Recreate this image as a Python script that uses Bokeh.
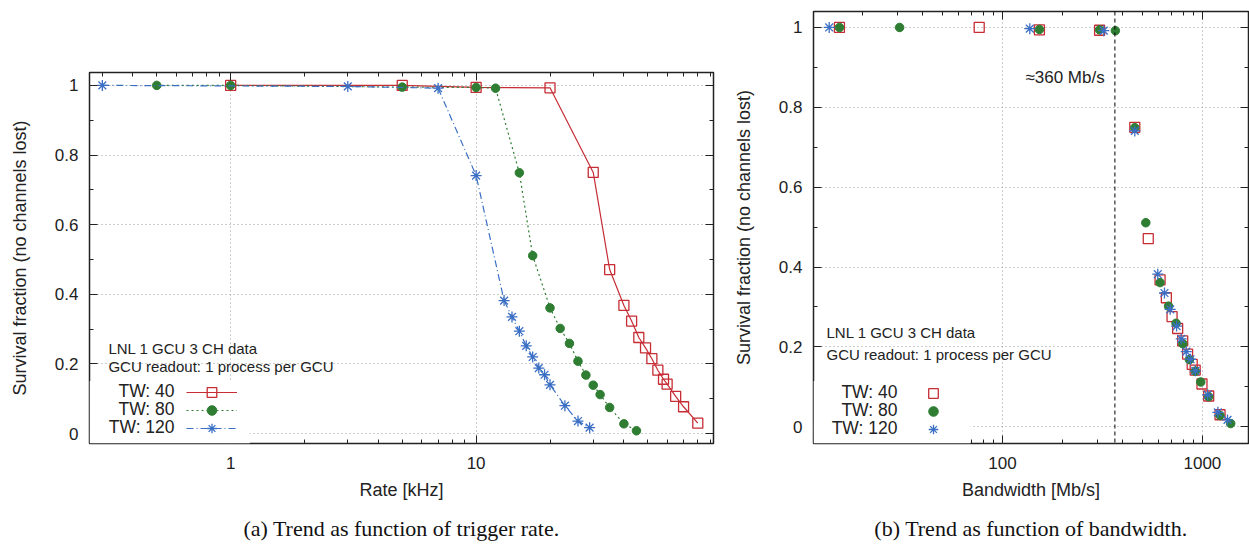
from bokeh.plotting import figure
from bokeh.models import (Range1d, FixedTicker, CustomJSTickFormatter, LinearAxis, LogAxis,
                          Legend, LegendItem, Label, Span, BoxAnnotation, Title)
from bokeh.layouts import row
from bokeh.embed import file_html
from bokeh.resources import INLINE

# ---------------- data ----------------
series_names = ["TW: 40", "TW: 80", "TW: 120"]

rate_tw40 = [1, 5, 10, 20, 30, 35, 40, 43, 46, 49, 52, 55, 58, 60, 65, 70, 80]
surv_tw40 = [1.0, 1.0, 0.994, 0.993, 0.750, 0.471, 0.368, 0.323, 0.276, 0.246, 0.215,
             0.182, 0.156, 0.142, 0.107, 0.077, 0.030]
bw_tw40 = [15.3, 76.5, 153, 306, 459, 536, 614, 660, 705, 752, 797, 843, 889, 920,
           995, 1075, 1225]

rate_tw80 = [0.5, 1, 5, 10, 12, 15, 17, 20, 22, 24, 26, 28, 30, 32, 35, 40, 45]
surv_tw80 = [1.0, 1.0, 0.995, 0.994, 0.992, 0.749, 0.511, 0.361, 0.302, 0.259, 0.208,
             0.168, 0.139, 0.112, 0.075, 0.028, 0.008]
bw_tw80 = [15.3, 30.6, 153, 306, 367, 459, 521, 614, 677, 738, 798, 861, 921, 981,
           1075, 1225, 1385]

rate_tw120 = [0.3, 3, 7, 10, 13, 14, 15, 16, 17, 18, 19, 20, 23, 26, 29]
surv_tw120 = [1.0, 0.997, 0.992, 0.741, 0.382, 0.335, 0.294, 0.252, 0.220, 0.188,
              0.169, 0.140, 0.080, 0.036, 0.017]
bw_tw120 = [13.6, 137, 321, 459, 598, 646, 690, 743, 783, 830, 872, 922, 1062, 1195, 1335]

bandwidth_limit = 365  # Mb/s
limit_text = "\u2248360 Mb/s"

y_major = [0, 0.2, 0.4, 0.6, 0.8, 1.0]
y_minor = [0.1, 0.3, 0.5, 0.7, 0.9]
x1_major = [1, 10]
x1_minor = [0.3, 0.4, 0.5, 0.6, 0.7, 0.8, 0.9, 2, 3, 4, 5, 6, 7, 8, 9,
            20, 30, 40, 50, 60, 70, 80, 90]
x2_major = [100, 1000]
x2_minor = [20, 30, 40, 50, 60, 70, 80, 90, 200, 300, 400, 500, 600, 700, 800, 900]

info_lines = ["LNL 1 GCU 3 CH data", "GCU readout: 1 process per GCU"]
ylabel = "Survival fraction (no channels lost)"
caption_a = "(a) Trend as function of trigger rate."
caption_b = "(b) Trend as function of bandwidth."

# ---------------- style ----------------
RED = "#c62d35"
GREEN = "#2e7d32"
BLUE = "#3a6fc4"
SANS = "Liberation Sans"
SERIF = "Liberation Serif"
FRAME = "#222222"

num_fmt = CustomJSTickFormatter(code="return String(Math.round(tick*10)/10);")
blank_fmt = CustomJSTickFormatter(code="return '';")


def style(p, xmaj, xmin, xlabel):
    yt = FixedTicker(ticks=y_major, minor_ticks=y_minor)
    xt = FixedTicker(ticks=xmaj, minor_ticks=xmin)
    xa = p.below[0]
    ya = p.left[0]
    for ax in [xa, ya]:
        ax.major_tick_in = 8
        ax.major_tick_out = 0
        ax.minor_tick_in = 4
        ax.minor_tick_out = 0
        ax.axis_line_color = None
        ax.major_tick_line_color = FRAME
        ax.minor_tick_line_color = FRAME
        ax.major_label_text_font = SANS
        ax.major_label_text_font_size = "17px"
        ax.major_label_text_color = "#222222"
        ax.axis_label_text_font = SANS
        ax.axis_label_text_font_size = "18px"
        ax.axis_label_text_font_style = "normal"
        ax.axis_label_text_color = "#222222"
    xa.ticker = xt
    xa.formatter = num_fmt
    xa.major_label_standoff = 13
    xa.axis_label_standoff = 8
    xa.axis_label = xlabel
    ya.ticker = yt
    ya.formatter = num_fmt
    ya.major_label_standoff = 11
    ya.axis_label_standoff = 22
    ya.axis_label = ylabel

    top = LogAxis(ticker=xt, formatter=blank_fmt, major_tick_in=8, major_tick_out=0,
                  minor_tick_in=4, minor_tick_out=0, axis_line_color=None,
                  major_tick_line_color=FRAME, minor_tick_line_color=FRAME,
                  major_label_text_font_size="0px", major_label_standoff=0)
    right = LinearAxis(ticker=yt, formatter=blank_fmt, major_tick_in=8, major_tick_out=0,
                       minor_tick_in=4, minor_tick_out=0, axis_line_color=None,
                       major_tick_line_color=FRAME, minor_tick_line_color=FRAME,
                       major_label_text_font_size="0px", major_label_standoff=0)
    p.add_layout(top, "above")
    p.add_layout(right, "right")

    for g in p.center:
        if g.__class__.__name__ == "Grid":
            g.ticker = xt if g.dimension == 0 else yt
            g.grid_line_color = "#9a9a9a"
            g.grid_line_dash = "1 3"
            g.grid_line_width = 1
    p.outline_line_color = FRAME
    p.outline_line_width = 1.5
    p.outline_line_alpha = 1
    p.background_fill_color = "white"
    p.border_fill_color = "white"
    p.frame_align = False


def add_legend(p, renderer_groups, x0, y0, glyph_width):
    # one single-row legend per series, stacked 18px apart
    n = len(renderer_groups)
    for i, rs in enumerate(renderer_groups):
        leg = Legend(items=[LegendItem(label=" ", renderers=rs)],
                     location=(x0, y0 + (n - 1 - i) * 18), orientation="vertical",
                     glyph_width=glyph_width, glyph_height=24, padding=2, margin=0,
                     label_width=0, label_height=0, label_standoff=0,
                     label_text_font_size="6px", border_line_color=None,
                     background_fill_alpha=0)
        p.add_layout(leg)


# ---------------- left plot ----------------
p1 = figure(width=725, height=551, x_axis_type="log", title=None,
            x_range=Range1d(0.266, 92.7), y_range=Range1d(-0.0285, 1.037),
            output_backend="svg", toolbar_location=None,
            min_border_left=89, min_border_right=12, min_border_top=72, min_border_bottom=105)
style(p1, x1_major, x1_minor, "Rate [kHz]")


def lx(px):
    return 10 ** ((px - 231) / 245.0)


def ly(py):
    return (436 - py) / 351.0


l_r = p1.line(rate_tw40, surv_tw40, line_color=RED, line_width=1.2)
s_r = p1.scatter(rate_tw40, surv_tw40, marker="square", size=10, fill_color=None,
                 line_color=RED, line_width=1.3)
l_g = p1.line(rate_tw80, surv_tw80, line_color=GREEN, line_width=1.2, line_dash="2 3")
s_g = p1.scatter(rate_tw80, surv_tw80, marker="circle", size=8.5, fill_color=GREEN,
                 line_color=GREEN)
l_b = p1.line(rate_tw120, surv_tw120, line_color=BLUE, line_width=1.2, line_dash="7 3 1 3")
s_b = p1.scatter(rate_tw120, surv_tw120, marker="asterisk", size=11, line_color=BLUE,
                 line_width=1.3)

p1.add_layout(BoxAnnotation(right=lx(250), top=ly(383), fill_color="white", fill_alpha=1,
                            line_color=None))
add_legend(p1, [[l_r, s_r], [l_g, s_g], [l_b, s_b]], 97, 3, 51)
for t, py in zip(info_lines, [350, 368]):
    p1.add_layout(Label(x=lx(109), y=ly(py), text=t, text_font=SANS, text_font_size="15px",
                        text_align="left", text_baseline="middle", text_color="#222222"))
for t, py in zip(series_names, [393, 411, 429]):
    p1.add_layout(Label(x=lx(175), y=ly(py), text=t, text_font=SANS, text_font_size="17.5px",
                        text_align="right", text_baseline="middle", text_color="#222222"))
p1.add_layout(Title(text=caption_a, align="center", text_font=SERIF, text_font_size="22px",
                    text_font_style="normal", text_color="#111111", standoff=22), "below")

# ---------------- right plot ----------------
p2 = figure(width=524, height=551, x_axis_type="log", title=None,
            x_range=Range1d(11.35, 1700), y_range=Range1d(-0.042, 1.04),
            output_backend="svg", toolbar_location=None,
            min_border_left=88, min_border_right=1, min_border_top=11, min_border_bottom=105)
style(p2, x2_major, x2_minor, "Bandwidth [Mb/s]")


def rx(px):
    return 10 ** (2 + (px - 1002) / 200.0)


def ry(py):
    return (429 - py) / 402.0


p2.add_layout(Span(location=bandwidth_limit, dimension="height", line_color="black",
                   line_dash="4 3", line_width=1))
r2 = p2.scatter(bw_tw40, surv_tw40, marker="square", size=10, fill_color=None,
                line_color=RED, line_width=1.3)
g2 = p2.scatter(bw_tw80, surv_tw80, marker="circle", size=8.5, fill_color=GREEN,
                line_color=GREEN)
b2 = p2.scatter(bw_tw120, surv_tw120, marker="asterisk", size=11, line_color=BLUE,
                line_width=1.3)

p2.add_layout(BoxAnnotation(right=rx(970), top=ry(383), fill_color="white", fill_alpha=1,
                            line_color=None))
add_legend(p2, [[r2], [g2], [b2]], 100, 2, 40)
for t, py in zip(info_lines, [334, 356]):
    p2.add_layout(Label(x=rx(826), y=ry(py), text=t, text_font=SANS, text_font_size="15px",
                        text_align="left", text_baseline="middle", text_color="#222222"))
for t, py in zip(series_names, [394, 412, 430]):
    p2.add_layout(Label(x=rx(897), y=ry(py), text=t, text_font=SANS, text_font_size="17.5px",
                        text_align="right", text_baseline="middle", text_color="#222222"))
p2.add_layout(Label(x=rx(1025), y=ry(77), text=limit_text, text_font=SANS,
                    text_font_size="17px", text_align="left", text_baseline="middle",
                    text_color="#222222"))
p2.add_layout(Title(text=caption_b, align="center", text_font=SERIF, text_font_size="22px",
                    text_font_style="normal", text_color="#111111", standoff=22), "below")

layout = row(p1, p2)
open("out.html", "w").write(file_html(layout, INLINE))
